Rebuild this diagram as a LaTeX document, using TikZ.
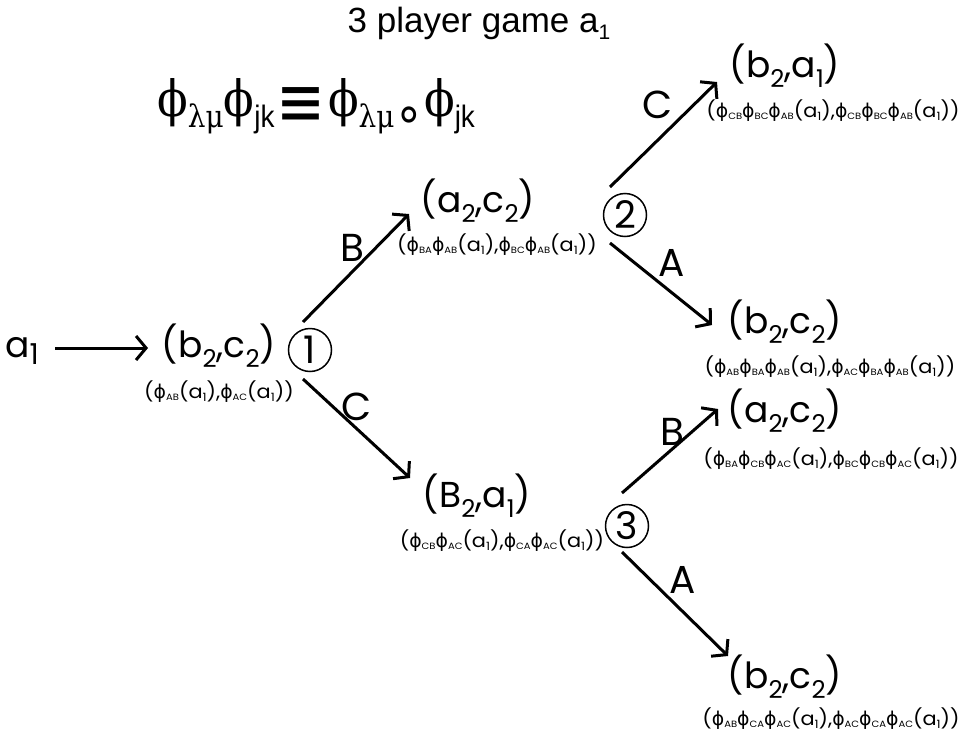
\documentclass[tikz,border=0pt]{standalone}
\usepackage{fontspec}
\setmainfont{Poppins}
\newfontfamily\arialf{Liberation Sans}
\newfontfamily\dvserif{DejaVu Serif}
\newfontfamily\dvsf{DejaVu Sans}
\usetikzlibrary{arrows.meta}
\newcommand\dn[1]{\raisebox{-0.3em}{\scalebox{0.68}{#1}}}
\newcommand\sdn[1]{\raisebox{-0.2em}{\scalebox{0.6}{#1}}}
\newcommand\phsub[1]{\raisebox{-0.15em}{\scalebox{0.48}{#1}}}
\newcommand\ph[1]{\scalebox{0.9}[1]{\dvsf ϕ}\phsub{#1}}
\newcommand\ao{a\sdn{1}}
\newcommand\fsub[1]{\raisebox{-0.22em}{\scalebox{0.62}{#1}}}
\newcommand\wide[1]{\scalebox{1.1}[1]{#1}}
\tikzset{
  x=1pt, y=-1pt,
  lbl/.style={inner sep=0pt, anchor=base, font=\fontsize{36}{40}\selectfont},
  sublbl/.style={inner sep=0pt, anchor=base, font=\fontsize{19}{21}\selectfont},
  num/.style={circle, draw, line width=1.5pt, minimum size=43pt, inner sep=0pt, font=\fontsize{38}{40}\selectfont},
  edge/.style={line width=3pt, -{Straight Barb[length=10pt,width=24pt]}},
  elab/.style={inner sep=0pt, font=\fontsize{39}{42}\selectfont},
}
\begin{document}
\begin{tikzpicture}
\useasboundingbox (0,0) rectangle (967,731);
% title and formula
\node[inner sep=0pt, anchor=base, font=\arialf\fontsize{35}{40}\selectfont] (title) at (479,32) {3 player game a\sdn{1}};
\node[inner sep=0pt, anchor=base west, font=\dvserif\fontsize{50}{56}\selectfont] (formula) at (157,116)
  {\scalebox{0.9}[1]{ϕ\fsub{λμ}ϕ\fsub{\arialf jk}\kern0.05em\raisebox{-0.2em}{\scalebox{1.3}[1.45]{\dvsf ≡}}\kern0.05em ϕ\fsub{λμ}\raisebox{-0.3em}{\scalebox{1.05}{\dvsf ∘}}ϕ\fsub{\arialf jk}}};
% circles
\node[num] (c1) at (310,350) {1};
\node[num] (c2) at (625,215) {2};
\node[num] (c3) at (627,526) {3};
% main labels
\node[lbl] (a1) at (22,357) {a\raisebox{-0.2em}{\scalebox{0.8}{1}}};
\node[lbl] (L1) at (219,357) {(b\dn{2},c\dn{2})};
\node[sublbl] (S1) at (219,398) {\wide{(\ph{AB}(\ao),\ph{AC}(\ao))}};
\node[lbl] (L2) at (478,212) {(a\dn{2},c\dn{2})};
\node[sublbl] (S2) at (497,251) {\wide{(\ph{BA}\ph{AB}(\ao),\ph{BC}\ph{AB}(\ao))}};
\node[lbl] (L3) at (477,507) {(B\dn{2},a\dn{1})};
\node[sublbl] (S3) at (502,547) {\wide{(\ph{CB}\ph{AC}(\ao),\ph{CA}\ph{AC}(\ao))}};
\node[lbl] (L4) at (785,77) {(b\dn{2},a\dn{1})};
\node[sublbl] (S4) at (833,117) {\wide{(\ph{CB}\ph{BC}\ph{AB}(\ao),\ph{CB}\ph{BC}\ph{AB}(\ao))}};
\node[lbl] (L5) at (785,333) {(b\dn{2},c\dn{2})};
\node[sublbl] (S5) at (830,373) {\wide{(\ph{AB}\ph{BA}\ph{AB}(\ao),\ph{AC}\ph{BA}\ph{AB}(\ao))}};
\node[lbl] (L6) at (785,422) {(a\dn{2},c\dn{2})};
\node[sublbl] (S6) at (831,465) {\wide{(\ph{BA}\ph{CB}\ph{AC}(\ao),\ph{BC}\ph{CB}\ph{AC}(\ao))}};
\node[lbl] (L7) at (785,688) {(b\dn{2},c\dn{2})};
\node[sublbl] (S7) at (831,725) {\wide{(\ph{AB}\ph{CA}\ph{AC}(\ao),\ph{AC}\ph{CA}\ph{AC}(\ao))}};
% arrow end points
\coordinate (p0s) at (55,348);   \coordinate (p0e) at (148,348);
\coordinate (p1s) at (303,322);  \coordinate (p1e) at (409,214);
\coordinate (p2s) at (303,379);  \coordinate (p2e) at (410,478);
\coordinate (p3s) at (610,187);  \coordinate (p3e) at (717,82);
\coordinate (p4s) at (610,243);  \coordinate (p4e) at (712,325);
\coordinate (p5s) at (622,493);  \coordinate (p5e) at (718,409);
\coordinate (p6s) at (622,552);  \coordinate (p6e) at (728,656);
\draw[edge] (p0s) -- (p0e);
\draw[edge] (p1s) -- (p1e);
\draw[edge] (p2s) -- (p2e);
\draw[edge] (p3s) -- (p3e);
\draw[edge] (p4s) -- (p4e);
\draw[edge] (p5s) -- (p5e);
\draw[edge] (p6s) -- (p6e);
% edge labels
\node[elab] (eB1) at (352,248) {B};
\node[elab] (eC1) at (357,407) {C};
\node[elab] (eC2) at (658,105) {C};
\node[elab] (eA2) at (672,263) {A};
\node[elab] (eB3) at (672,432) {B};
\node[elab] (eA3) at (683,580) {A};
\end{tikzpicture}
\end{document}
